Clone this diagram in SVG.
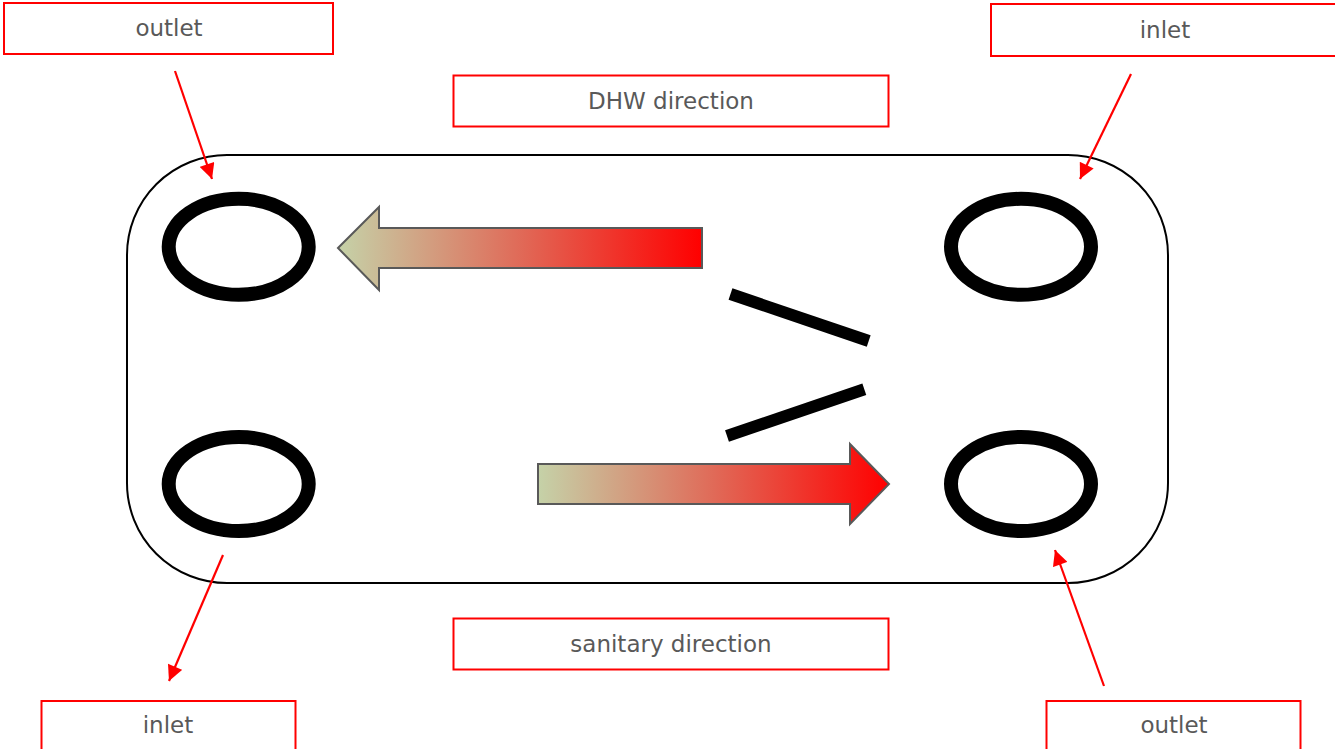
<svg xmlns="http://www.w3.org/2000/svg" width="1335" height="749" viewBox="0 0 1335 749">
<style>
.lbl{fill:#fff;stroke:#ff0000;stroke-width:2}
.txt{font-family:"DejaVu Sans",Verdana,sans-serif;font-size:23px;fill:#595959;text-anchor:middle}
.port{fill:none;stroke:#000;stroke-width:14}
.bar{stroke:#000;stroke-width:12;stroke-linecap:butt}
.flow{stroke:#595959;stroke-width:2;stroke-linejoin:miter}
.pt{stroke:#ff0000;stroke-width:2.2;fill:none}
</style>
<defs>
<linearGradient id="gL" x1="0" y1="0" x2="1" y2="0">
<stop offset="0" stop-color="#c5d2a8"/>
<stop offset="0.5" stop-color="#e06a58"/>
<stop offset="1" stop-color="#ff0000"/>
</linearGradient>
<marker id="ah" viewBox="0 0 10 10" refX="10" refY="5" markerWidth="7.5" markerHeight="7" markerUnits="strokeWidth" orient="auto">
<path d="M0,0 L10,5 L0,10 z" fill="#ff0000"/>
</marker>
</defs>
<g id="plate">
<rect x="127" y="155" width="1041" height="428" rx="100" ry="100" fill="#fff" stroke="#000" stroke-width="2"/>
</g>
<g id="port-tl"><ellipse class="port" cx="238.7" cy="246.8" rx="70" ry="48"/></g>
<g id="port-tr"><ellipse class="port" cx="1021" cy="246.8" rx="70" ry="48"/></g>
<g id="port-bl"><ellipse class="port" cx="238.7" cy="484" rx="70" ry="47"/></g>
<g id="port-br"><ellipse class="port" cx="1021" cy="484" rx="70" ry="47"/></g>
<g id="arrow-dhw">
<path class="flow" fill="url(#gL)" d="M338,248 L379,207 L379,228 L702,228 L702,268 L379,268 L379,290 Z"/>
</g>
<g id="arrow-sanitary">
<path class="flow" fill="url(#gL)" d="M538,464 L850,464 L850,444 L889,484 L850,524 L850,504 L538,504 Z"/>
</g>
<g id="bars">
<line class="bar" x1="730.5" y1="294" x2="868.7" y2="341"/>
<line class="bar" x1="727" y1="436" x2="864.3" y2="389.3"/>
</g>
<g id="label-outlet-tl"><rect class="lbl" x="4" y="3" width="329" height="51"/><text class="txt" x="169" y="36">outlet</text></g>
<g id="label-inlet-tr"><rect class="lbl" x="991" y="4" width="348" height="52"/><text class="txt" x="1165" y="38">inlet</text></g>
<g id="label-dhw"><rect class="lbl" x="453.5" y="75.5" width="435" height="51"/><text class="txt" x="671" y="109">DHW direction</text></g>
<g id="label-sanitary"><rect class="lbl" x="453.5" y="618.5" width="435" height="51"/><text class="txt" x="671" y="652">sanitary direction</text></g>
<g id="label-inlet-bl"><rect class="lbl" x="41.5" y="701" width="254" height="52"/><text class="txt" x="168" y="733">inlet</text></g>
<g id="label-outlet-br"><rect class="lbl" x="1046.5" y="701" width="254" height="52"/><text class="txt" x="1174" y="733">outlet</text></g>
<g id="connectors">
<line class="pt" x1="175" y1="71" x2="212" y2="179" marker-end="url(#ah)"/>
<line class="pt" x1="1131" y1="74" x2="1080" y2="179" marker-end="url(#ah)"/>
<line class="pt" x1="223" y1="555" x2="169" y2="681" marker-end="url(#ah)"/>
<line class="pt" x1="1104" y1="686" x2="1055" y2="550" marker-end="url(#ah)"/>
</g>
</svg>
